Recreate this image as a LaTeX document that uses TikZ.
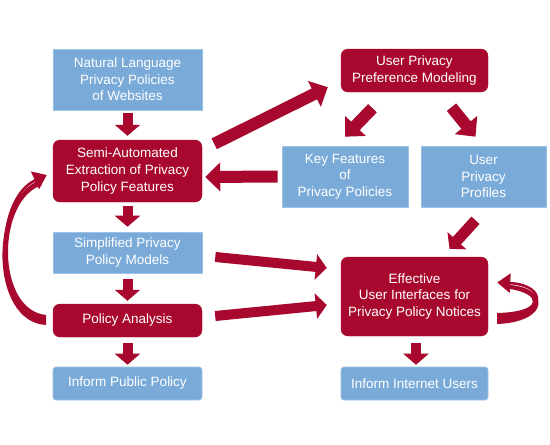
\documentclass[tikz,border=0pt]{standalone}
\usepackage{fontspec}
\setmainfont{Liberation Sans}
\usetikzlibrary{arrows.meta,calc}
\definecolor{bx}{HTML}{7AAAD8}
\definecolor{bxline}{HTML}{9CC2E6}
\definecolor{rd}{HTML}{A8082E}
\newcommand{\fs}{\fontsize{13.5pt}{16.6pt}\selectfont}
\begin{document}
\begin{tikzpicture}[x=1pt,y=-1pt,
  bluebox/.style={fill=bx, draw=bxline, line width=0.6pt, text=white, align=center, inner sep=0pt, font=\fs},
  redbox/.style={fill=rd, draw=rd, rounded corners=7pt, text=white, align=center, inner sep=0pt, font=\fs},
  fat/.style={draw=rd, line width=10pt, -{Triangle[width=25pt,length=11pt]}},
  fatter/.style={draw=rd, line width=12pt, -{Triangle[width=28pt,length=15pt]}},
  loopline/.style={draw=rd, line width=2.5pt, -{Triangle[width=19pt,length=13pt]}}]
\useasboundingbox (0,0) rectangle (550,445);
\fill[white] (0,0) rectangle (550,445);
% left column
\node[bluebox, minimum width=149pt, minimum height=61pt] (nat) at (127.5,79.5) {Natural Language\\Privacy Policies\\of Websites};
\node[redbox, minimum width=149pt, minimum height=62pt] (semi) at (127.5,171) {Semi-Automated\\Extraction of Privacy\\Policy Features};
\node[bluebox, minimum width=149pt, minimum height=41pt] (simp) at (127.5,252.5) {Simplified Privacy\\Policy Models};
\node[redbox, minimum width=149pt, minimum height=33pt] (pa) at (127.5,320.5) {Policy Analysis};
\node[bluebox, rounded corners=3pt, minimum width=149pt, minimum height=33pt] (ipp) at (127.5,383.5) {Inform Public Policy};
% right side
\node[redbox, minimum width=147pt, minimum height=43pt] (uppm) at (414.5,70.5) {User Privacy\\Preference Modeling};
\node[bluebox, minimum width=126pt, minimum height=61pt] (key) at (345,176.5) {Key Features\\of\\Privacy Policies};
\node[bluebox, minimum width=125pt, minimum height=61pt] (prof) at (483.5,176.5) {User\\Privacy\\Profiles};
\node[redbox, minimum width=147pt, minimum height=79pt] (eff) at (414.5,296.5) {Effective\\User Interfaces for\\Privacy Policy Notices};
\node[bluebox, rounded corners=3pt, minimum width=147pt, minimum height=33pt] (iiu) at (414.5,383.5) {Inform Internet Users};
% vertical arrows
\draw[fat] ($(nat.south)+(0,3)$) -- ($(semi.north)+(0,-4)$);
\draw[fat] ($(semi.south)+(0,4)$) -- ($(simp.north)+(0,-5)$);
\draw[fat] ($(simp.south)+(0,6)$) -- ($(pa.north)+(0,-3)$);
\draw[fat] ($(pa.south)+(0,6)$) -- ($(ipp.north)+(0,-2)$);
\draw[fat] ($(eff.south)+(1.5,7)$) -- ($(iiu.north)+(1.5,-2)$);
% diagonal / horizontal arrows
\draw[fatter] ($(semi.north east)+(12,4)$) -- ($(uppm.south west)+(-13,-5)$);
\draw[fatter] ($(uppm.south)+(-42,16)$) -- ($(key.north)+(0,-9)$);
\draw[fatter] ($(uppm.south)+(37,15)$) -- ($(prof.north)+(-8,-9)$);
\draw[fatter] ($(key.west)+(-4,0)$) -- ($(semi.east)+(3,6)$);
\draw[fat, line width=11pt] ($(prof.south)+(-8,13)$) -- ($(eff.north)+(35,-8)$);
\draw[fat] ($(simp.east)+(13,4.5)$) -- ($(eff.west)+(-14,-28.5)$);
\draw[fat] ($(pa.east)+(13,-4.5)$) -- ($(eff.west)+(-14,8.5)$);
% loops: tapered ribbons with arrow heads
\fill[rd] (46,325) .. controls (-10,322) and (-12,200) .. (40,180) -- (42,185) .. controls (-4,200) and (-4,310) .. (46,315) -- cycle;
\draw[loopline] ($(pa.west)+(-7,0)$) .. controls (-6,316) and (-8,200) .. ($(semi.west)+(-6,4)$);
\fill[rd] (497,324) .. controls (550,322) and (550,288) .. (510,285) -- (510,289) .. controls (542,294) and (543,312) .. (497,313) -- cycle;
\draw[loopline] ($(eff.east)+(9,21)$) .. controls (548,316) and (548,285) .. ($(eff.east)+(9,-14)$);
\end{tikzpicture}
\end{document}
